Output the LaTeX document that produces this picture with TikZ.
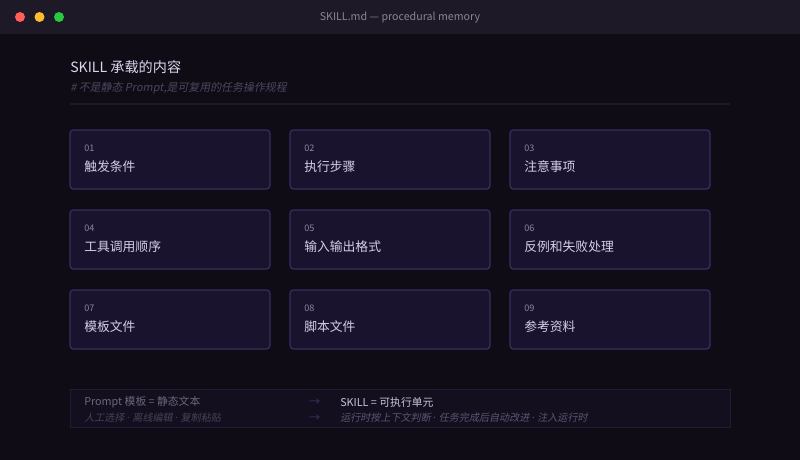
\documentclass[tikz,border=0pt]{standalone}
\usepackage{fontspec}
\setmainfont{Noto Sans CJK SC}
\newfontfamily\slantfont[FakeSlant=0.2]{Noto Sans CJK SC}
\newfontfamily\dotfont{Noto Sans}
\newcommand\sepdot{{\dotfont\ ·\ }}
\usetikzlibrary{calc}
\definecolor{barbg}{HTML}{1D1927}
\definecolor{bodybg}{HTML}{0F0C16}
\definecolor{lightred}{HTML}{FF5F57}
\definecolor{lightyellow}{HTML}{FEBC2E}
\definecolor{lightgreen}{HTML}{28C840}
\definecolor{bartxt}{HTML}{8A8496}
\definecolor{cardbg}{HTML}{19132E}
\definecolor{cardline}{HTML}{3A2E5E}
\definecolor{numtxt}{HTML}{8C85A6}
\definecolor{labtxt}{HTML}{D4CEE6}
\definecolor{headtxt}{HTML}{DCD5EE}
\definecolor{subtxt}{HTML}{4D465F}
\definecolor{ruleline}{HTML}{1E1929}
\definecolor{notebg}{HTML}{140F1E}
\definecolor{noteline}{HTML}{221B31}
\definecolor{oldtxt}{HTML}{6C667E}
\definecolor{oldsub}{HTML}{474157}
\definecolor{newtxt}{HTML}{C9C3DA}
\definecolor{newsub}{HTML}{5C5573}
\definecolor{arrowtxt}{HTML}{3F3566}
\tikzset{
	card/.style={draw=cardline, line width=0.9pt, fill=cardbg, rounded corners=2.5pt, minimum width=150pt, minimum height=44.25pt, inner sep=0pt},
	cardnum/.style={anchor=west, text=numtxt, font=\fontsize{6.8}{8}\selectfont, inner sep=0pt},
	cardlab/.style={anchor=west, text=labtxt, font=\fontsize{9.6}{11}\selectfont, inner sep=0pt},
	rowtxt/.style={anchor=west, inner sep=0pt, font=\fontsize{8.1}{9}\selectfont},
	rowsub/.style={anchor=west, inner sep=0pt, font=\slantfont\fontsize{7.55}{9}\selectfont}
}

\begin{document}
\begin{tikzpicture}[x=0.75pt, y=-0.75pt]
			%%%%% START %%%%%
			
			\fill[bodybg] (0, 0) rectangle (800, 460);
			\useasboundingbox (0, 0) rectangle (800, 460);
			
			% window bar
			\fill[barbg] (0, 0) rectangle (800, 34);
			\fill[lightred] (20, 17) circle (5);
			\fill[lightyellow] (39.5, 17) circle (5);
			\fill[lightgreen] (59, 17) circle (5);
			\node[text=bartxt, font=\fontsize{8}{9}\selectfont] (wintitle) at (400, 17.5) {SKILL.md — procedural memory};
			
			% heading
			\node[anchor=west, inner sep=0pt, text=headtxt, font=\fontsize{10.6}{12}\selectfont] (head) at (70, 67) {SKILL 承载的内容};
			\node[anchor=west, inner sep=0pt, text=subtxt, font=\slantfont\fontsize{8.2}{9}\selectfont] (subhead) at (70, 88) {\# 不是静态 Prompt,是可复用的任务操作规程};
			\draw[ruleline, line width=1.5pt] (70, 104) -- (730, 104);
			
			% cards
			\node[card] (c1) at (170, 159.5) {};
			\node[cardnum] (c1n) at (84, 148) {01};
			\node[cardlab] (c1l) at (84, 167) {触发条件};
			
			\node[card] (c2) at (390, 159.5) {};
			\node[cardnum] (c2n) at (304, 148) {02};
			\node[cardlab] (c2l) at (304, 167) {执行步骤};
			
			\node[card] (c3) at (610, 159.5) {};
			\node[cardnum] (c3n) at (524, 148) {03};
			\node[cardlab] (c3l) at (524, 167) {注意事项};
			
			\node[card] (c4) at (170, 239.5) {};
			\node[cardnum] (c4n) at (84, 228) {04};
			\node[cardlab] (c4l) at (84, 247) {工具调用顺序};
			
			\node[card] (c5) at (390, 239.5) {};
			\node[cardnum] (c5n) at (304, 228) {05};
			\node[cardlab] (c5l) at (304, 247) {输入输出格式};
			
			\node[card] (c6) at (610, 239.5) {};
			\node[cardnum] (c6n) at (524, 228) {06};
			\node[cardlab] (c6l) at (524, 247) {反例和失败处理};
			
			\node[card] (c7) at (170, 319.5) {};
			\node[cardnum] (c7n) at (84, 308) {07};
			\node[cardlab] (c7l) at (84, 327) {模板文件};
			
			\node[card] (c8) at (390, 319.5) {};
			\node[cardnum] (c8n) at (304, 308) {08};
			\node[cardlab] (c8l) at (304, 327) {脚本文件};
			
			\node[card] (c9) at (610, 319.5) {};
			\node[cardnum] (c9n) at (524, 308) {09};
			\node[cardlab] (c9l) at (524, 327) {参考资料};
			
			% comparison strip
			\draw[fill=notebg, draw=noteline, line width=0.6pt] (70, 389) rectangle (730, 427);
			\node[rowtxt, text=oldtxt] (oldtop) at (84, 402) {Prompt 模板 = 静态文本};
			\node[rowsub, text=oldsub] (oldbot) at (84, 418) {人工选择\sepdot 离线编辑\sepdot 复制粘贴};
			\node[rowtxt, text=arrowtxt] (arrtop) at (309, 402) {→};
			\node[rowtxt, text=arrowtxt] (arrbot) at (309, 418) {→};
			\node[rowtxt, text=newtxt] (newtop) at (340, 402) {SKILL = 可执行单元};
			\node[rowsub, text=newsub] (newbot) at (340, 418) {运行时按上下文判断\sepdot 任务完成后自动改进\sepdot 注入运行时};
			
			%%%%% END %%%%%
		\end{tikzpicture}
\end{document}
